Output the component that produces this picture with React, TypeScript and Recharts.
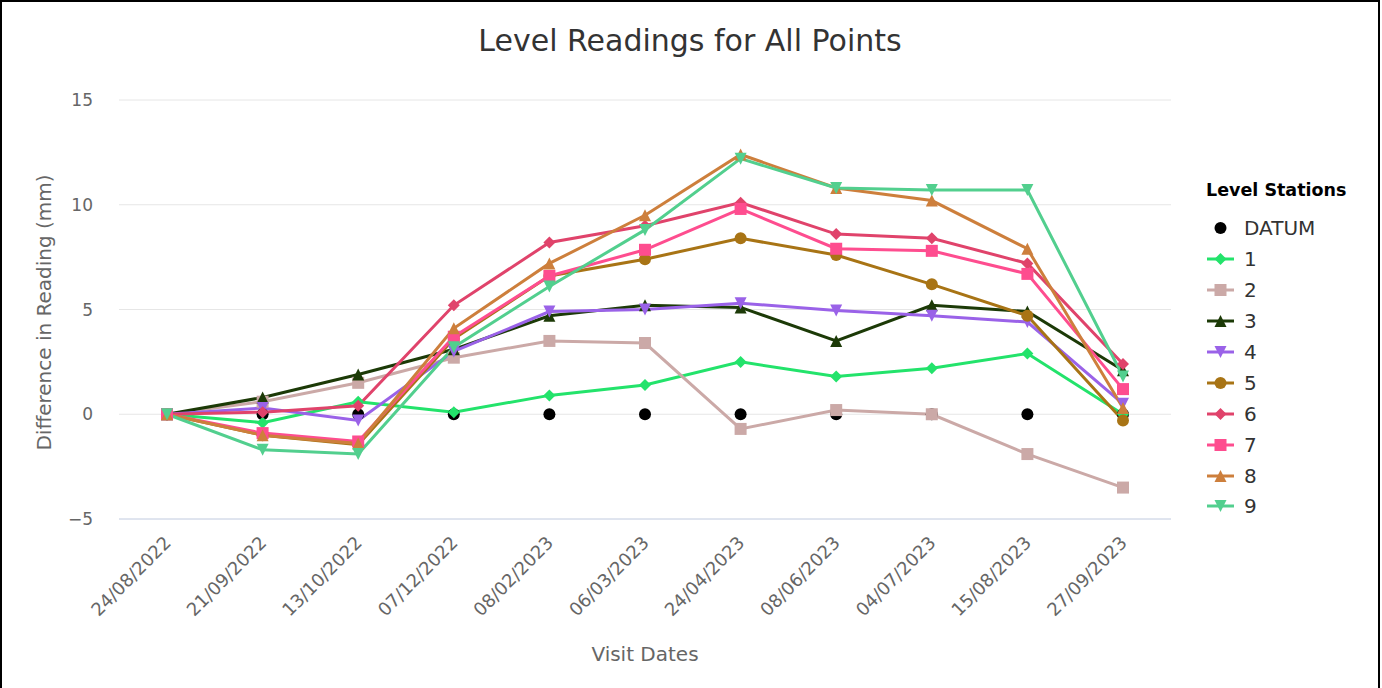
import React from 'react';
import {CartesianGrid, Line, LineChart, XAxis, YAxis} from 'recharts';

const dates = [
	'24/08/2022', '21/09/2022', '13/10/2022', '07/12/2022', '08/02/2023', '06/03/2023',
	'24/04/2023', '08/06/2023', '04/07/2023', '15/08/2023', '27/09/2023',
];

const datum = [0, 0, 0, 0, 0, 0, 0, 0, 0, 0, 0];
const station1 = [0, -0.4, 0.6, 0.1, 0.9, 1.4, 2.5, 1.8, 2.2, 2.9, 0];
const station2 = [0, 0.6, 1.5, 2.7, 3.5, 3.4, -0.7, 0.2, 0, -1.9, -3.5];
const station3 = [0, 0.8, 1.9, 3.1, 4.7, 5.2, 5.1, 3.5, 5.2, 4.9, 2.1];
const station4 = [0, 0.3, -0.3, 3.0, 4.9, 5.0, 5.3, 4.95, 4.7, 4.4, 0.5];
const station5 = [0, -1.0, -1.45, 3.6, 6.6, 7.4, 8.4, 7.6, 6.2, 4.7, -0.3];
const station6 = [0, 0.1, 0.4, 5.2, 8.2, 9.0, 10.1, 8.6, 8.4, 7.2, 2.4];
const station7 = [0, -0.9, -1.3, 3.7, 6.6, 7.85, 9.8, 7.9, 7.8, 6.7, 1.2];
const station8 = [0, -1.0, -1.4, 4.1, 7.2, 9.5, 12.4, 10.8, 10.2, 7.9, 0.3];
const station9 = [0, -1.7, -1.9, 3.2, 6.1, 8.8, 12.2, 10.8, 10.7, 10.7, 1.8];

const yTicks = [-5, 0, 5, 10, 15];

const series = [
	{key: 'DATUM', values: datum, color: '#000000', shape: 'circle', line: false},
	{key: '1', values: station1, color: '#23e36b', shape: 'diamond', line: true},
	{key: '2', values: station2, color: '#cba9a7', shape: 'square', line: true},
	{key: '3', values: station3, color: '#1c3a07', shape: 'triangle', line: true},
	{key: '4', values: station4, color: '#9a62e8', shape: 'triangle-down', line: true},
	{key: '5', values: station5, color: '#a87415', shape: 'circle', line: true},
	{key: '6', values: station6, color: '#e0436b', shape: 'diamond', line: true},
	{key: '7', values: station7, color: '#fe4d8f', shape: 'square', line: true},
	{key: '8', values: station8, color: '#cd7f3c', shape: 'triangle', line: true},
	{key: '9', values: station9, color: '#52cf8e', shape: 'triangle-down', line: true},
];

const data = dates.map((d, i) => {
	const row: any = {date: d};
	series.forEach(s => { row[s.key] = s.values[i]; });
	return row;
});

const FONT = '"DejaVu Sans", sans-serif';

const Marker = ({cx, cy, shape, color, r = 6}: any) => {
	if (cx == null || cy == null) return null;
	if (shape === 'circle') return <circle cx={cx} cy={cy} r={r} fill={color}/>;
	if (shape === 'square') return <rect x={cx - r} y={cy - r} width={2 * r} height={2 * r} fill={color}/>;
	let d = '';
	if (shape === 'diamond') d = `M${cx} ${cy - r}L${cx + r} ${cy}L${cx} ${cy + r}L${cx - r} ${cy}Z`;
	if (shape === 'triangle') d = `M${cx} ${cy - r}L${cx + r} ${cy + r}L${cx - r} ${cy + r}Z`;
	if (shape === 'triangle-down') d = `M${cx - r} ${cy - r}L${cx + r} ${cy - r}L${cx} ${cy + r}Z`;
	return <path d={d} fill={color}/>;
};

const DateTick = ({x, y, payload}: any) => (
	<g transform={`translate(${x + 5},${y + 17})`}>
		<text transform="rotate(-45)" textAnchor="end" fill="#666" fontSize={18} fontFamily={FONT}>
			{payload.value}
		</text>
	</g>
);

const YLabel = ({viewBox}: any) => {
	const cx = viewBox.x + 42;
	const cy = viewBox.y + viewBox.height / 2 + 3;
	return (
		<text x={cx} y={cy} transform={`rotate(-90 ${cx} ${cy})`} textAnchor="middle" dominantBaseline="central"
			  fill="#666" fontSize={20} fontFamily={FONT}>
			Difference in Reading (mm)
		</text>
	);
};

const XLabel = ({viewBox}: any) => (
	<text x={viewBox.x + viewBox.width / 2} y={viewBox.y + 142} textAnchor="middle" fill="#666" fontSize={20}
		  fontFamily={FONT}>
		Visit Dates
	</text>
);

const App = () => {
	return (
		<div style={{
			position: 'absolute', left: 0, top: 0, width: 1376, height: 688,
			borderLeft: '2px solid #000', borderTop: '2px solid #000', borderRight: '2px solid #000',
			background: '#fff', fontFamily: FONT,
		}}>
			<div style={{
				position: 'absolute', left: 0, top: 21, width: 1376, textAlign: 'center',
				fontSize: 30, color: '#333', lineHeight: '36px',
			}}>
				Level Readings for All Points
			</div>
			<LineChart width={1376} height={686} data={data} margin={{top: 98, right: 207, bottom: 0, left: 0}}>
				<CartesianGrid vertical={false} stroke="#e6e6e6" strokeWidth={1}/>
				<XAxis dataKey="date" height={169} padding={{left: 48, right: 48}} tickLine={false}
					   axisLine={{stroke: '#ccd6eb', strokeWidth: 1}} tick={<DateTick/>} interval={0}
					   label={<XLabel/>}/>
				<YAxis width={117} domain={[-5, 15]} ticks={yTicks} axisLine={false} tickLine={false}
					   tickFormatter={(v: number) => String(v).replace('-', '\u2212')}
					   tick={{fill: '#666', fontSize: 17, fontFamily: FONT}} tickMargin={20} label={<YLabel/>}/>
				{series.map(s => (
					<Line key={s.key} dataKey={s.key} type="linear" stroke={s.line ? s.color : 'none'}
						  strokeWidth={3} isAnimationActive={false} activeDot={false}
						  dot={(p: any) => <Marker key={`${s.key}-${p.index}`} cx={p.cx} cy={p.cy}
												   shape={s.shape} color={s.color}/>}/>
				))}
			</LineChart>
			<div style={{position: 'absolute', left: 1204, top: 175, color: '#333'}}>
				<div style={{fontSize: 17.5, fontWeight: 'bold', color: '#000', lineHeight: '26px', marginBottom: 10}}>
					Level Stations
				</div>
				{series.map(s => (
					<div key={s.key} style={{display: 'flex', alignItems: 'center', height: 30.9, fontSize: 20}}>
						<svg width={30} height={20} style={{marginRight: 8}}>
							{s.line && <line x1={1} x2={28} y1={10} y2={10} stroke={s.color} strokeWidth={3}/>}
							<Marker cx={14.5} cy={10} shape={s.shape} color={s.color}/>
						</svg>
						<span>{s.key}</span>
					</div>
				))}
			</div>
		</div>
	);
};

export default App;
